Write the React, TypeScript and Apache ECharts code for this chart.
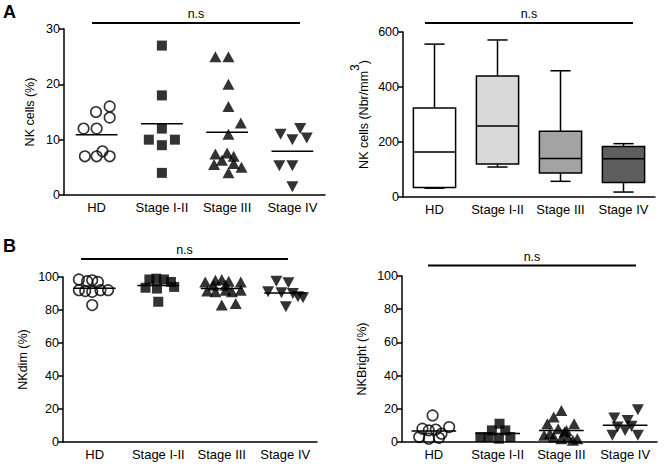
import React, { useEffect, useRef } from 'react';
import * as echarts from 'echarts';

const groups = ['HD', 'Stage I-II', 'Stage III', 'Stage IV'];

// Panel A (left): NK cells (%)
const nkPctValues: number[][] = [
  [15, 16, 14, 12, 12, 7, 7, 7.9, 7],
  [27, 18, 12, 10, 10, 9, 4],
  [25, 25, 20, 16, 13, 11, 7.4, 7.6, 7, 5.5, 6.3, 5.7, 5, 4],
  [11, 12, 10, 10.3, 5.3, 5.3, 1.5],
];
const nkPctJitter: number[][] = [
  [-0.01, 0.2, 0.2, -0.2, 0, -0.18, 0, 0.09, 0.2],
  [0, 0, 0, -0.2, 0.2, 0, 0],
  [-0.18, 0.02, 0.02, 0.02, 0.21, 0.02, -0.18, 0, 0.1, -0.2, -0.08, 0.1, 0.22, 0.02],
  [-0.18, 0.12, 0, 0.22, -0.2, 0, 0],
];

// Panel A (right): NK cells (Nbr/mm3) box plot
const boxMin = [32, 109, 57, 18];
const boxQ1 = [35, 120, 87, 53];
const boxMedian = [164, 258, 140, 139];
const boxQ3 = [324, 440, 239, 184];
const boxMax = [556, 571, 459, 194];

// Panel B (left): NKdim (%)
const nkDimValues: number[][] = [
  [98.5, 97.5, 98, 97, 92, 91.5, 91, 92, 92, 83],
  [98.5, 99, 98.5, 97, 93.5, 93, 94, 85],
  [97, 98, 98.5, 97.5, 97, 95, 95, 91.5, 91, 92, 91, 92, 83, 84],
  [97.5, 96.5, 91, 90.5, 90, 87.5, 82, 88],
];
const nkDimJitter: number[][] = [
  [-0.25, -0.12, -0.04, 0.05, -0.25, -0.15, -0.04, 0.09, 0.21, -0.04],
  [-0.14, -0.03, 0.09, 0.2, -0.2, -0.02, 0.25, 0],
  [-0.26, -0.1, 0, 0.11, 0.3, -0.13, 0.06, -0.23, -0.1, 0.06, 0.16, 0.3, 0, 0.22],
  [-0.14, 0.05, -0.27, -0.06, 0.12, 0.28, 0.01, 0.2],
];

// Panel B (right): NKBright (%)
const nkBrightValues: number[][] = [
  [16, 8, 7, 7.5, 9, 3, 2, 2.5, 5],
  [11, 7, 7, 3, 3, 2, 3],
  [19, 15, 11, 11, 8, 7, 4, 3, 3, 2, 2, 5, 1, 6],
  [19.5, 14.5, 13, 9.5, 9, 7, 4, 4],
];
const nkBrightJitter: number[][] = [
  [-0.02, -0.18, -0.08, 0.03, 0.24, -0.23, -0.08, 0.08, 0.12],
  [0.03, -0.09, 0.12, -0.27, -0.14, 0.02, 0.2],
  [0, -0.12, -0.22, 0.2, -0.05, 0.08, -0.27, -0.12, 0.1, 0.25, 0, -0.18, 0.18, 0.05],
  [0.2, -0.17, 0.04, 0.1, -0.12, 0, -0.2, 0.2],
];

const yTicksA1 = [0, 10, 20, 30];
const yTicksA2 = [0, 200, 400, 600];
const yTicksB = [0, 20, 40, 60, 80, 100];

const FONT = 'Liberation Sans, Arial, Helvetica, sans-serif';
const boxFills = ['#ffffff', '#d9d9d9', '#a3a3a3', '#5e5e5e'];

const markerStyles = [
  { symbol: 'circle', symbolSize: 10.5, symbolRotate: 0, itemStyle: { color: 'rgba(0,0,0,0)', borderColor: '#000', borderWidth: 1.6 } },
  { symbol: 'rect', symbolSize: 10, symbolRotate: 0, itemStyle: { color: '#000' } },
  { symbol: 'triangle', symbolSize: [12, 11], symbolRotate: 0, itemStyle: { color: '#000' } },
  { symbol: 'triangle', symbolSize: [12, 11], symbolRotate: 180, itemStyle: { color: '#000' } },
];

const mean = (a: number[]) => a.reduce((s, v) => s + v, 0) / a.length;

function catAxis(gridIndex: number) {
  return {
    type: 'category',
    gridIndex,
    data: groups,
    boundaryGap: true,
    axisLine: { lineStyle: { color: '#000', width: 1.5 } },
    axisTick: { alignWithLabel: true, length: 5, lineStyle: { color: '#000', width: 1.5 } },
    axisLabel: { color: '#000', fontSize: 13, fontFamily: FONT, margin: 6, interval: 0 },
    splitLine: { show: false },
  };
}

function hiddenValAxis(gridIndex: number) {
  return { type: 'value', gridIndex, min: 0.5, max: 4.5, show: false, splitLine: { show: false } };
}

function yAxis(gridIndex: number, ticks: number[], name: string, nameGap: number, rich?: any) {
  return {
    type: 'value',
    gridIndex,
    min: ticks[0],
    max: ticks[ticks.length - 1],
    interval: ticks[1] - ticks[0],
    name,
    nameLocation: 'middle',
    nameGap,
    nameTextStyle: { color: '#000', fontSize: 12.5, fontFamily: FONT, rich },
    axisLine: { show: true, lineStyle: { color: '#000', width: 1.5 } },
    axisTick: { show: true, length: 5, lineStyle: { color: '#000', width: 1.5 } },
    axisLabel: { color: '#000', fontSize: 12.5, fontFamily: FONT, margin: 4 },
    splitLine: { show: false },
  };
}

function scatterSeries(values: number[][], jitter: number[][], xAxisIndex: number, yAxisIndex: number, half: number) {
  const out: any[] = [];
  values.forEach((vals, g) => {
    const m = markerStyles[g];
    out.push({
      type: 'scatter',
      xAxisIndex,
      yAxisIndex,
      symbol: m.symbol,
      symbolSize: m.symbolSize,
      symbolRotate: m.symbolRotate,
      itemStyle: m.itemStyle,
      data: vals.map((v, k) => [g + 1 + jitter[g][k], v]),
      z: 3,
    });
  });
  out.push({
    type: 'custom',
    xAxisIndex,
    yAxisIndex,
    data: values.map((vals, g) => [g + 1, mean(vals)]),
    renderItem: (_p: any, api: any) => {
      const x = api.value(0);
      const y = api.value(1);
      const a = api.coord([x - half, y]);
      const b = api.coord([x + half, y]);
      return {
        type: 'line',
        shape: { x1: a[0], y1: a[1], x2: b[0], y2: b[1] },
        style: { stroke: '#000', lineWidth: 1.5 },
      };
    },
    z: 4,
  });
  return out;
}

function nsGroup(x1: number, x2: number, y: number, ty: number) {
  return [
    { type: 'line', shape: { x1, y1: y, x2, y2: y }, style: { stroke: '#000', lineWidth: 2 } },
    {
      type: 'text',
      x: (x1 + x2) / 2,
      y: ty,
      style: { text: 'n.s', fill: '#000', font: `12.5px ${FONT}`, textAlign: 'center', textVerticalAlign: 'middle' },
    },
  ];
}

export default function App() {
  const ref = useRef<HTMLDivElement>(null);
  useEffect(() => {
    if (!ref.current) return;
    const chart = echarts.init(ref.current, undefined, { renderer: 'svg' });
    const option: any = {
      animation: false,
      backgroundColor: '#fff',
      grid: [
        { left: 64, top: 29, width: 261, height: 166 },
        { left: 403, top: 32, width: 252, height: 165 },
        { left: 63, top: 277, width: 254, height: 165 },
        { left: 402, top: 276, width: 255, height: 166 },
      ],
      xAxis: [
        catAxis(0),
        hiddenValAxis(0),
        catAxis(1),
        catAxis(2),
        hiddenValAxis(2),
        catAxis(3),
        hiddenValAxis(3),
      ],
      yAxis: [
        yAxis(0, yTicksA1, 'NK cells (%)', 28),
        yAxis(1, yTicksA2, '{a|NK cells (Nbr/mm}{s|3}{a|)}', 33, {
          a: { fontSize: 12.5, fontFamily: FONT, color: '#000', verticalAlign: 'bottom', lineHeight: 21 },
          s: { fontSize: 12, fontFamily: FONT, color: '#000', verticalAlign: 'top', lineHeight: 21 },
        }),
        yAxis(2, yTicksB, 'NKdim (%)', 34),
        yAxis(3, yTicksB, 'NKBright (%)', 34),
      ],
      series: [
        ...scatterSeries(nkPctValues, nkPctJitter, 1, 0, 0.32),
        {
          type: 'custom',
          xAxisIndex: 2,
          yAxisIndex: 1,
          encode: { x: 0, y: [1, 2, 3, 4, 5] },
          data: groups.map((_g, i) => [i, boxMin[i], boxQ1[i], boxMedian[i], boxQ3[i], boxMax[i]]),
          renderItem: (_p: any, api: any) => {
            const i = api.value(0);
            const band = api.size([1, 0])[0];
            const bw = band * 0.67;
            const cw = band * 0.32;
            const pMin = api.coord([i, api.value(1)]);
            const pQ1 = api.coord([i, api.value(2)]);
            const pMed = api.coord([i, api.value(3)]);
            const pQ3 = api.coord([i, api.value(4)]);
            const pMax = api.coord([i, api.value(5)]);
            const cx = pMed[0];
            const st = { stroke: '#000', lineWidth: 1.5 };
            return {
              type: 'group',
              children: [
                { type: 'line', shape: { x1: cx, y1: pQ3[1], x2: cx, y2: pMax[1] }, style: st },
                { type: 'line', shape: { x1: cx, y1: pQ1[1], x2: cx, y2: pMin[1] }, style: st },
                { type: 'line', shape: { x1: cx - cw / 2, y1: pMax[1], x2: cx + cw / 2, y2: pMax[1] }, style: st },
                { type: 'line', shape: { x1: cx - cw / 2, y1: pMin[1], x2: cx + cw / 2, y2: pMin[1] }, style: st },
                {
                  type: 'rect',
                  shape: { x: cx - bw / 2, y: pQ3[1], width: bw, height: pQ1[1] - pQ3[1] },
                  style: { fill: boxFills[i], stroke: '#000', lineWidth: 1.5 },
                },
                { type: 'line', shape: { x1: cx - bw / 2, y1: pMed[1], x2: cx + bw / 2, y2: pMed[1] }, style: st },
              ],
            };
          },
        },
        ...scatterSeries(nkDimValues, nkDimJitter, 4, 2, 0.33),
        ...scatterSeries(nkBrightValues, nkBrightJitter, 6, 3, 0.35),
      ],
      graphic: [
        { type: 'text', left: 3, top: 3, style: { text: 'A', fill: '#000', font: `bold 18px ${FONT}` } },
        { type: 'text', left: 3, top: 237, style: { text: 'B', fill: '#000', font: `bold 18px ${FONT}` } },
        ...nsGroup(92, 300, 23, 14),
        ...nsGroup(425, 633, 23, 14),
        ...nsGroup(81, 288, 259, 249.5),
        ...nsGroup(428, 636, 265.5, 256.5),
      ],
    };
    chart.setOption(option);
    return () => chart.dispose();
  }, []);
  return (
    <div
      ref={ref}
      style={{ position: 'absolute', left: 0, top: 0, width: 664, height: 465, background: '#fff' }}
    />
  );
}
